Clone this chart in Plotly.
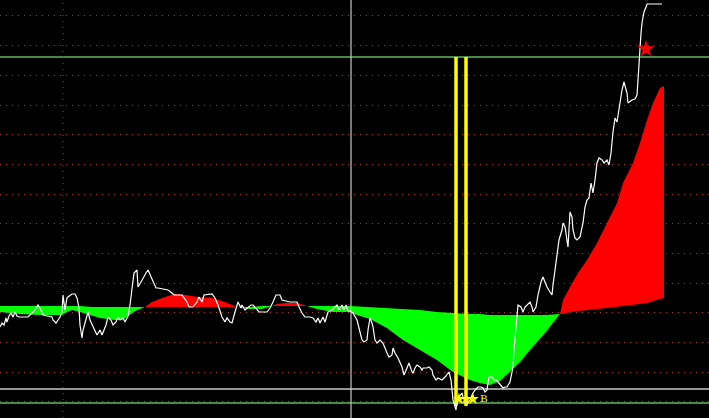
import plotly.graph_objects as go

# ---------------- data (arbitrary price units, time index) ----------------
price_x = [0, 2, 4, 6, 7, 9, 11, 13, 15, 17, 19, 28, 32, 35, 38, 41, 43, 47, 52, 53, 56, 58, 60, 62, 63, 65, 67, 68,
           72, 75, 77, 79, 80, 82, 83, 85, 87, 88, 90, 93, 95, 97, 100, 102, 104, 106, 108, 111, 113, 116, 118, 120,
           123, 125, 127, 128, 130, 132, 134, 137, 138, 141, 143, 146, 148, 151, 153, 156, 158, 168, 172, 174, 182,
           184, 187, 189, 193, 197, 199, 202, 204, 212, 215, 218, 220, 222, 225, 227, 230, 232, 235, 238, 241, 242,
           245, 248, 251, 253, 257, 259, 267, 270, 273, 276, 280, 282, 290, 297, 299, 302, 305, 310, 313, 316, 318,
           320, 323, 325, 328, 332, 335, 337, 339, 342, 344, 346, 348, 350, 353, 357, 360, 362, 364, 367, 368, 370,
           372, 373, 375, 377, 380, 383, 387, 389, 392, 393, 395, 398, 402, 404, 407, 409, 412, 413, 415, 417, 420,
           422, 423, 427, 429, 432, 433, 436, 438, 442, 445, 447, 449, 451, 452, 453, 456, 457, 459, 462, 463, 465,
           467, 468, 470, 472, 473, 476, 478, 481, 483, 485, 487, 489, 492, 494, 496, 498, 501, 503, 505, 507, 510,
           513, 514, 516, 518, 521, 523, 525, 527, 530, 532, 533, 536, 538, 541, 543, 545, 547, 550, 552, 553, 555,
           557, 559, 562, 563, 565, 567, 568, 570, 572, 573, 575, 577, 580, 583, 585, 587, 589, 591, 593, 595, 597,
           599, 602, 604, 607, 609, 611, 613, 615, 617, 619, 622, 624, 627, 628, 632, 635, 637, 638, 639, 640, 641,
           642, 643, 644, 646, 647, 662]
price_v = [91, 95, 93, 100, 96, 102, 105, 101, 106, 102, 101, 101, 105, 108, 113, 108, 103, 102, 101, 98, 95, 98, 101,
           106, 123, 108, 120, 121, 124, 124, 120, 110, 93, 80, 88, 95, 101, 106, 98, 91, 88, 83, 88, 83, 88, 93, 101,
           98, 93, 96, 101, 98, 100, 96, 100, 102, 113, 130, 145, 148, 131, 136, 140, 145, 148, 141, 138, 130, 130,
           128, 125, 123, 123, 120, 116, 111, 111, 116, 121, 116, 123, 124, 120, 113, 108, 101, 96, 100, 96, 95, 106,
           116, 110, 113, 108, 111, 113, 113, 109, 106, 106, 110, 116, 123, 123, 118, 116, 116, 111, 105, 101, 101,
           100, 96, 100, 95, 101, 96, 106, 108, 111, 113, 108, 113, 108, 113, 107, 107, 105, 98, 86, 78, 76, 78, 88,
           100, 95, 91, 78, 75, 78, 75, 65, 61, 63, 70, 65, 60, 51, 43, 50, 55, 46, 45, 50, 53, 51, 48, 50, 50, 51,
           48, 43, 38, 40, 38, 41, 43, 46, 38, 28, 18, 8, 16, 21, 25, 21, 18, 15, 15, 18, 23, 25, 29, 31, 31, 30, 26,
           28, 41, 41, 38, 38, 36, 33, 30, 31, 31, 36, 51, 68, 91, 113, 111, 106, 111, 113, 116, 111, 106, 111, 123,
           136, 141, 136, 131, 126, 123, 133, 148, 165, 178, 188, 195, 191, 178, 171, 206, 201, 188, 180, 178, 181,
           195, 211, 218, 220, 235, 225, 238, 255, 260, 258, 255, 258, 253, 265, 286, 300, 296, 311, 328, 336, 325,
           315, 318, 319, 323, 338, 358, 373, 385, 395, 403, 406, 411, 414, 414]

ma_x = [0, 20, 40, 62, 67, 72, 80, 92, 100, 115, 122, 127, 135, 145, 152, 165, 175, 185, 198, 212, 225, 237, 250,
        262, 272, 277, 287, 297, 307, 317, 333, 350, 357, 370, 387, 403, 420, 437, 453, 470, 480, 490, 500, 510, 520,
        530, 545, 560, 563, 570, 578, 587, 597, 607, 617, 623, 633, 640, 647, 653, 660, 664]
ma_fast = [106, 104, 103, 103, 106, 108, 106, 102, 100, 98, 98, 101, 107, 111, 116, 121, 124, 123, 121, 120, 116, 111,
           109, 109, 112, 114, 115, 115, 112, 109, 106, 106, 103, 99, 90, 78, 68, 58, 46, 38, 35, 33, 37, 46, 56, 68,
           85, 104, 118, 131, 145, 158, 175, 195, 215, 235, 255, 275, 298, 315, 330, 332]
ma_slow = [112, 112, 112, 112, 112, 112, 112, 111, 111, 111, 111, 111, 111, 111, 111, 111, 111, 111, 111, 111, 111,
           111, 111, 112, 112, 112, 112, 112, 112, 112, 112, 112, 112, 111, 110, 109, 108, 106, 105, 104, 104, 103,
           103, 103, 103, 103, 103, 104, 104, 106, 107, 108, 109, 110, 111, 112, 113, 114, 115, 117, 119, 120]

green_levels = [361, 15]
gray_levels = [29]
cursor_x = [351]
grid_vx = [63]
signal_x = [456, 466]
signal_range = [12, 361]
buy_star_x = [459, 466, 473]
buy_star_v = [19, 19, 19]
buy_label = "B"
buy_label_x = [484]
buy_label_v = [19]
peak_star_x = [646]
peak_star_v = [369]

X_MAX = 709
Y_MAX = 418
GRID_T0 = 16.3
GRID_DT = 29.67
GRID_COLOR = "#a8402c"

fig = go.Figure()

# ---------------- red / green fill between fast and slow lines ----------------
segs = []
cur = []
cur_sign = 0
for i in range(len(ma_x)):
    d = ma_fast[i] - ma_slow[i]
    sgn = (d > 0) - (d < 0)
    if sgn == 0:
        cur.append(i)
        if cur_sign != 0:
            segs.append((cur_sign, cur))
            cur = [i]
            cur_sign = 0
        continue
    if cur_sign == 0 or sgn == cur_sign:
        cur_sign = sgn
        cur.append(i)
    else:
        segs.append((cur_sign, cur))
        cur = [cur[-1], i]
        cur_sign = sgn
if cur_sign != 0 and len(cur) > 1:
    segs.append((cur_sign, cur))

for sgn, idx in segs:
    xs = [ma_x[j] for j in idx] + [ma_x[j] for j in reversed(idx)]
    ys = [ma_fast[j] for j in idx] + [ma_slow[j] for j in reversed(idx)]
    col = "#ff0000" if sgn > 0 else "#00ff00"
    fig.add_trace(go.Scatter(x=xs, y=ys, mode="lines", fill="toself", fillcolor=col,
                             line=dict(width=0, color=col), hoverinfo="skip", showlegend=False))

# ---------------- horizontal levels ----------------
for lv in green_levels:
    fig.add_trace(go.Scatter(x=[0, X_MAX], y=[lv, lv], mode="lines",
                             line=dict(color="#5cb85c", width=1.3), hoverinfo="skip", showlegend=False))
for lv in gray_levels:
    fig.add_trace(go.Scatter(x=[0, X_MAX], y=[lv, lv], mode="lines",
                             line=dict(color="#c8c8c8", width=1.3), hoverinfo="skip", showlegend=False))

# dotted vertical grid
for gx in grid_vx:
    fig.add_trace(go.Scatter(x=[gx, gx], y=[0, Y_MAX], mode="lines",
                             line=dict(color=GRID_COLOR, width=1, dash="1px,5px"), hoverinfo="skip", showlegend=False))

# cursor line
for cx in cursor_x:
    fig.add_trace(go.Scatter(x=[cx, cx], y=[0, Y_MAX], mode="lines",
                             line=dict(color="#c8c8c8", width=1.2), hoverinfo="skip", showlegend=False))

# yellow signal lines
for sx in signal_x:
    fig.add_trace(go.Scatter(x=[sx, sx], y=signal_range, mode="lines",
                             line=dict(color="#ffff00", width=3.5), hoverinfo="skip", showlegend=False))

# price
fig.add_trace(go.Scatter(x=price_x, y=price_v, mode="lines",
                         line=dict(color="#ffffff", width=1.2), hoverinfo="skip", showlegend=False))

# buy stars + label
fig.add_trace(go.Scatter(x=buy_star_x, y=buy_star_v, mode="markers",
                         marker=dict(symbol="star", size=9, color="#ffff00", line=dict(width=0)),
                         hoverinfo="skip", showlegend=False))
fig.add_trace(go.Scatter(x=buy_label_x, y=buy_label_v, mode="text", text=[buy_label],
                         textfont=dict(color="#ffff00", size=11, family="Liberation Serif"),
                         hoverinfo="skip", showlegend=False))
# peak star
fig.add_trace(go.Scatter(x=peak_star_x, y=peak_star_v, mode="markers",
                         marker=dict(symbol="star", size=13, color="#ff0000", line=dict(width=0)),
                         hoverinfo="skip", showlegend=False))

fig.update_layout(
    width=709, height=418,
    margin=dict(l=0, r=0, t=0, b=0),
    paper_bgcolor="#000000", plot_bgcolor="#000000",
    xaxis=dict(range=[0, X_MAX], showgrid=False, zeroline=False, showticklabels=False, fixedrange=True),
    yaxis=dict(range=[0, Y_MAX], showgrid=True, gridcolor=GRID_COLOR, gridwidth=1, griddash="1px,5px",
               tick0=GRID_T0, dtick=GRID_DT, zeroline=False, showticklabels=False, fixedrange=True),
    showlegend=False,
)

fig.write_html(
    "out.html",
    config={"displayModeBar": False},
    post_script="document.body.style.margin='0';document.body.style.overflow='hidden';"
                "document.body.style.background='#000';",
)
